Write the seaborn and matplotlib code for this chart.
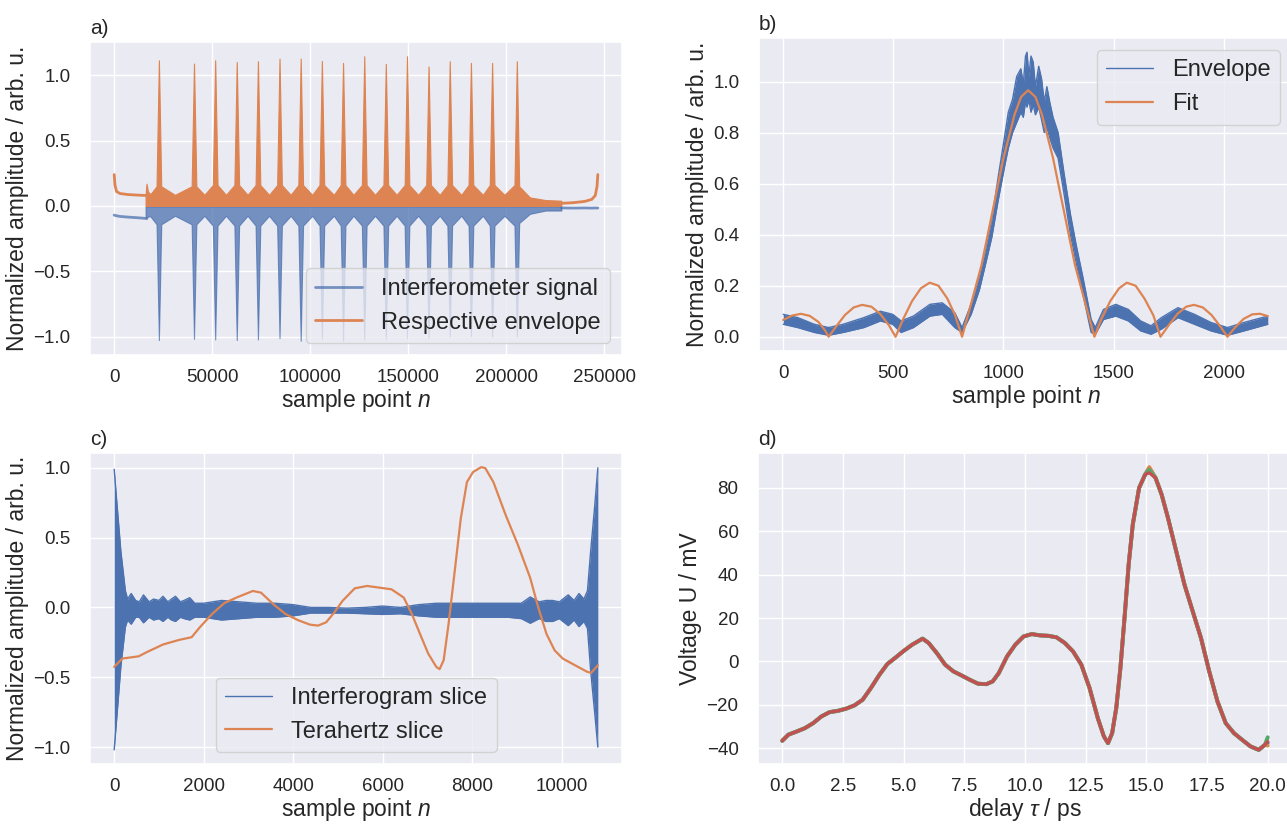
import matplotlib
matplotlib.use("Agg")
import matplotlib.pyplot as plt
from matplotlib.ticker import MultipleLocator
import seaborn as sns

# ---- a) interferometer signal + envelope (values read off the picture)
peak_n = [22800, 40700, 51500, 62500, 73300, 84300, 95100, 105900, 116700,
          127500, 138500, 149300, 160300, 171100, 181900, 192700, 205300]
lead_n = [0, 400, 1200, 3000, 7000, 12000, 16000]
lead_env = [0.24, 0.16, 0.11, 0.095, 0.087, 0.083, 0.08]
lead_sig = [-0.07, -0.072, -0.075, -0.08, -0.085, -0.09, -0.095]
tail_n = [228000, 234000, 240000, 243500, 245300, 246200, 246600]
tail_env = [0.02, 0.025, 0.035, 0.05, 0.08, 0.15, 0.24]
tail_sig = [-0.015, -0.016, -0.015, -0.016, -0.015, -0.016, -0.015]
band_n = [16000, 16500, 17200, 18500, 21600, 22800, 24000, 31000, 39500, 40700,
          41900, 46000, 50300, 51500, 52700, 57000, 61300, 62500, 63700, 68000,
          72100, 73300, 74500, 79000, 83100, 84300, 85500, 90000, 93900, 95100,
          96300, 101000, 104700, 105900, 107100, 112000, 115500, 116700, 117900,
          122000, 126300, 127500, 128700, 133000, 137300, 138500, 139700, 144000,
          148100, 149300, 150500, 155000, 159100, 160300, 161500, 166000, 169900,
          171100, 172300, 177000, 180700, 181900, 183100, 188000, 191500, 192700,
          193900, 199000, 204100, 205300, 206500, 212000, 220000, 228000]
band_env = [0.09, 0.17, 0.11, 0.09, 0.15, 1.113, 0.15, 0.085, 0.15, 1.088,
            0.15, 0.085, 0.16, 1.113, 0.16, 0.085, 0.16, 1.10, 0.16, 0.085,
            0.16, 1.106, 0.16, 0.085, 0.16, 1.126, 0.16, 0.085, 0.16, 1.126,
            0.16, 0.085, 0.16, 1.108, 0.16, 0.085, 0.16, 1.093, 0.16,
            0.085, 0.16, 1.144, 0.16, 0.085, 0.16, 1.086, 0.16, 0.085,
            0.16, 1.144, 0.16, 0.085, 0.16, 1.066, 0.16, 0.085, 0.16,
            1.106, 0.16, 0.085, 0.16, 1.093, 0.16, 0.085, 0.16, 1.093,
            0.16, 0.085, 0.16, 1.106, 0.15, 0.065, 0.045, 0.04]
band_sig = [-0.09, -0.1, -0.08, -0.08, -0.14, -1.025, -0.14, -0.075, -0.14, -1.015,
            -0.14, -0.075, -0.15, -1.02, -0.15, -0.075, -0.15, -1.025, -0.15, -0.075,
            -0.15, -1.02, -0.15, -0.075, -0.15, -1.01, -0.15, -0.075, -0.15, -1.03,
            -0.15, -0.075, -0.15, -1.015, -0.15, -0.075, -0.15, -1.03, -0.15,
            -0.075, -0.15, -1.02, -0.15, -0.075, -0.15, -1.015, -0.15, -0.075,
            -0.15, -1.01, -0.15, -0.075, -0.15, -1.01, -0.15, -0.075, -0.15,
            -1.0, -0.15, -0.075, -0.15, -0.995, -0.15, -0.075, -0.15, -1.0,
            -0.15, -0.075, -0.15, -1.0, -0.13, -0.06, -0.035, -0.035]

# ---- b) single envelope with its fit
b_n = [0, 66, 141, 206, 272, 366, 441, 497, 535, 591, 666, 722, 779, 812, 854,
       891, 920, 947, 975, 1004, 1022, 1041, 1060, 1079, 1090, 1100, 1107, 1115,
       1125, 1135, 1145, 1160, 1173, 1185, 1197, 1210, 1225, 1248, 1275, 1304,
       1330, 1360, 1398, 1417, 1454, 1510, 1567, 1623, 1670, 1717, 1792, 1867,
       1942, 2017, 2092, 2200]
b_env_hi = [0.088, 0.075, 0.049, 0.036, 0.049, 0.075, 0.10, 0.088, 0.062, 0.081,
            0.127, 0.133, 0.094, 0.036, 0.13, 0.24, 0.35, 0.46, 0.62, 0.78, 0.88,
            0.93, 1.02, 1.05, 0.99, 1.10, 1.115, 1.02, 1.10, 1.076, 0.98, 1.06,
            1.01, 0.92, 0.98, 0.92, 0.86, 0.80, 0.64, 0.48, 0.36, 0.236, 0.068,
            0.036, 0.107, 0.127, 0.107, 0.062, 0.043, 0.075, 0.114, 0.088, 0.056,
            0.036, 0.056, 0.081]
b_env_lo = [0.049, 0.036, 0.017, 0.006, 0.017, 0.036, 0.062, 0.049, 0.017, 0.036,
            0.081, 0.088, 0.036, 0.017, 0.09, 0.185, 0.29, 0.39, 0.53, 0.663, 0.74,
            0.80, 0.84, 0.88, 0.86, 0.92, 0.90, 0.93, 0.88, 0.91, 0.87, 0.90,
            0.85, 0.80, 0.82, 0.78, 0.74, 0.70, 0.56, 0.40, 0.29, 0.17, 0.017,
            0.01, 0.068, 0.081, 0.062, 0.023, 0.01, 0.03, 0.075, 0.049, 0.023,
            0.006, 0.023, 0.049]
fit_n = [0, 40, 80, 120, 160, 190, 206, 240, 280, 320, 358, 400, 440, 480, 510,
         545, 585, 625, 665, 705, 745, 780, 812, 850, 900, 950, 1000, 1050, 1080,
         1112, 1145, 1175, 1225, 1275, 1325, 1375, 1413, 1445, 1485, 1525, 1560,
         1600, 1640, 1680, 1713, 1750, 1790, 1830, 1865, 1905, 1945, 1985, 2017,
         2050, 2090, 2130, 2165, 2200]
fit_val = [0.066, 0.083, 0.090, 0.082, 0.058, 0.025, 0.0, 0.04, 0.085, 0.115, 0.125,
           0.118, 0.09, 0.045, 0.0, 0.07, 0.14, 0.19, 0.212, 0.20, 0.15, 0.085, 0.0,
           0.12, 0.28, 0.49, 0.70, 0.87, 0.94, 0.966, 0.94, 0.87, 0.70, 0.49, 0.28,
           0.12, 0.0, 0.07, 0.14, 0.19, 0.212, 0.20, 0.15, 0.085, 0.0, 0.045, 0.09,
           0.118, 0.125, 0.115, 0.085, 0.04, 0.0, 0.035, 0.07, 0.088, 0.09, 0.081]

# ---- c) interferogram slice and terahertz slice
c_n = [0, 60, 150, 250, 300, 380, 480, 560, 655, 780, 880, 1000, 1090, 1200,
       1280, 1370, 1480, 1560, 1690, 1800, 2000, 2400, 2800, 3200, 3600, 4000,
       4400, 4800, 5200, 5600, 6000, 6400, 6800, 7200, 7600, 8000, 8400, 8800,
       9100, 9300, 9500, 9650, 9800, 9950, 10150, 10280, 10390, 10500, 10580,
       10650, 10740, 10811]
c_hi = [0.99, 0.75, 0.40, 0.12, 0.06, 0.10, 0.05, 0.04, 0.09, 0.04, 0.06, 0.05,
        0.08, 0.04, 0.06, 0.08, 0.04, 0.05, 0.07, 0.03, 0.03, 0.05, 0.04, 0.03,
        0.03, 0.02, 0.0, 0.0, -0.005, 0.0, 0.01, 0.0, 0.02, 0.03, 0.03, 0.03,
        0.03, 0.03, 0.03, 0.075, 0.04, 0.05, 0.05, 0.04, 0.09, 0.05, 0.10, 0.06,
        0.12, 0.40, 0.72, 1.0]
c_lo = [-1.02, -0.78, -0.42, -0.14, -0.09, -0.12, -0.07, -0.07, -0.11, -0.07,
        -0.09, -0.08, -0.10, -0.07, -0.09, -0.10, -0.07, -0.08, -0.09, -0.07,
        -0.07, -0.09, -0.08, -0.07, -0.07, -0.06, -0.04, -0.04, -0.04, -0.045,
        -0.05, -0.045, -0.06, -0.07, -0.07, -0.07, -0.07, -0.07, -0.08, -0.113,
        -0.08, -0.10, -0.10, -0.08, -0.13, -0.09, -0.137, -0.10, -0.15, -0.45,
        -0.75, -1.0]
thz_n = [0, 182, 547, 729, 1094, 1458, 1732, 1914, 2188, 2461, 2735, 3100, 3282,
         3555, 3829, 4102, 4376, 4558, 4740, 4922, 5105, 5378, 5652, 5925, 6198,
         6472, 6654, 6837, 7019, 7201, 7274, 7365, 7475, 7612, 7748, 7885, 8022,
         8204, 8295, 8477, 8751, 9024, 9298, 9480, 9663, 9845, 10027, 10301,
         10574, 10665, 10811]
thz_val = [-0.426, -0.366, -0.35, -0.32, -0.265, -0.232, -0.213, -0.142, -0.047,
           0.031, 0.071, 0.118, 0.106, 0.024, -0.047, -0.09, -0.123, -0.13,
           -0.106, -0.035, 0.047, 0.137, 0.154, 0.142, 0.13, 0.071, -0.047, -0.19,
           -0.33, -0.426, -0.442, -0.378, -0.118, 0.26, 0.638, 0.898, 0.97, 1.005,
           0.998, 0.898, 0.662, 0.449, 0.213, 0.0, -0.189, -0.307, -0.366, -0.414,
           -0.461, -0.468, -0.414]

# ---- d) repeated terahertz traces
tau_ps = [0.0, 0.25, 0.6, 0.93, 1.27, 1.61, 1.95, 2.29, 2.63, 2.97, 3.31, 3.65,
          4.0, 4.33, 4.67, 5.01, 5.35, 5.78, 6.03, 6.37, 6.71, 7.05, 7.39, 7.73,
          8.07, 8.41, 8.67, 8.92, 9.26, 9.6, 9.94, 10.28, 10.62, 10.96, 11.3,
          11.64, 11.98, 12.32, 12.66, 13.0, 13.25, 13.42, 13.59, 13.76, 13.93,
          14.1, 14.27, 14.44, 14.7, 14.95, 15.12, 15.38, 15.63, 15.89, 16.23,
          16.57, 16.91, 17.25, 17.59, 17.93, 18.27, 18.61, 18.95, 19.29, 19.63,
          19.88, 20.0]
u_mv = [-36.6, -33.8, -32.3, -30.8, -28.5, -25.4, -23.4, -22.8, -21.8, -20.3,
        -17.7, -12.3, -6.2, -1.2, 1.8, 4.9, 7.7, 10.5, 8.5, 3.8, -1.5, -4.6, -6.5,
        -8.5, -10.3, -10.5, -9.2, -5.4, 2.3, 7.7, 11.5, 12.6, 12.0, 11.8, 11.1,
        8.5, 4.6, -1.5, -12.3, -26.2, -34.6, -37.7, -33.1, -21.5, -3.1, 20.0,
        44.6, 63.1, 80.0, 86.2, 87.0, 84.6, 76.9, 66.2, 50.8, 35.4, 23.1, 10.8,
        -4.6, -18.5, -28.5, -33.1, -36.2, -39.2, -40.8, -38.5, -36.2]
trace_peak = [89.0, 89.6, 88.4, 87.0]
trace_end = [-37.5, -38.8, -35.0, -37.0]

sns.set_theme(style="darkgrid")
plt.rcParams["font.family"] = ["Liberation Sans", "DejaVu Sans"]
plt.rcParams["mathtext.fontset"] = "custom"
plt.rcParams["mathtext.it"] = "Liberation Sans:italic"
plt.rcParams["mathtext.rm"] = "Liberation Sans"

deep = sns.color_palette("deep")
blue, orange = deep[0], deep[1]
tick_fs, lab_fs, leg_fs, let_fs = 13.5, 16.5, 17, 15

fig = plt.figure(figsize=(12.87, 8.26), dpi=100)
W, H = 1287, 826
def place(l, t, w, h):
    return fig.add_axes([l / W, 1 - (t + h) / H, w / W, h / H])

ax1 = place(90, 42, 532, 313)
ax2 = place(759, 38, 533, 313)
ax3 = place(90, 453, 532, 311)
ax4 = place(758, 453, 534, 311)

# a)
sns.lineplot(x=lead_n, y=lead_sig, ax=ax1, color=blue, alpha=0.75, lw=2,
             label="Interferometer signal")
sns.lineplot(x=tail_n, y=tail_sig, ax=ax1, color=blue, alpha=0.75, lw=2)
ax1.fill_between(band_n, band_sig, -0.005, color=blue, alpha=0.75, lw=0.8)
sns.lineplot(x=lead_n, y=lead_env, ax=ax1, color=orange, lw=2,
             label="Respective envelope")
sns.lineplot(x=tail_n, y=tail_env, ax=ax1, color=orange, lw=2)
ax1.fill_between(band_n, 0.0, band_env, color=orange, lw=0.8)
ax1.legend(loc="lower right", fontsize=leg_fs)

# b)
sns.lineplot(x=b_n, y=b_env_hi, ax=ax2, color=blue, lw=1, label="Envelope")
sns.lineplot(x=b_n, y=b_env_lo, ax=ax2, color=blue, lw=1)
ax2.fill_between(b_n, b_env_lo, b_env_hi, color=blue, lw=0)
sns.lineplot(x=fit_n, y=fit_val, ax=ax2, color=orange, lw=1.6, label="Fit")
ax2.legend(loc="upper right", fontsize=leg_fs)

# c)
sns.lineplot(x=c_n, y=c_hi, ax=ax3, color=blue, lw=1, label="Interferogram slice")
sns.lineplot(x=c_n, y=c_lo, ax=ax3, color=blue, lw=1)
ax3.fill_between(c_n, c_lo, c_hi, color=blue, lw=0)
sns.lineplot(x=thz_n, y=thz_val, ax=ax3, color=orange, lw=1.6,
             label="Terahertz slice")
ax3.legend(loc="lower center", fontsize=leg_fs)
ax3.yaxis.set_major_locator(MultipleLocator(0.5))

# d)
i_peak = u_mv.index(87.0)
for k in range(4):
    u = list(u_mv)
    u[i_peak] = trace_peak[k]
    u[-1] = trace_end[k]
    sns.lineplot(x=tau_ps, y=u, ax=ax4, color=deep[k],
                 lw=2.8 if k < 3 else 2.3)
ax4.xaxis.set_major_locator(MultipleLocator(2.5))
ax4.yaxis.set_major_locator(MultipleLocator(20))

for ax, letter in zip([ax1, ax2, ax3, ax4], "abcd"):
    ax.set_title(letter + ")", loc="left", fontsize=let_fs, pad=6)
    ax.tick_params(labelsize=tick_fs)
    ax.tick_params(axis="y", pad=8)
    ax.tick_params(axis="x", pad=4)
    ax.set_ylabel("Normalized amplitude / arb. u.", fontsize=lab_fs, labelpad=3)
    ax.set_xlabel("sample point $n$", fontsize=lab_fs, labelpad=1)
ax4.set_ylabel("Voltage U / mV", fontsize=lab_fs, labelpad=3)
ax4.set_xlabel(r"delay $\tau$ / ps", fontsize=lab_fs, labelpad=1)

fig.savefig("out.png", dpi=100)
